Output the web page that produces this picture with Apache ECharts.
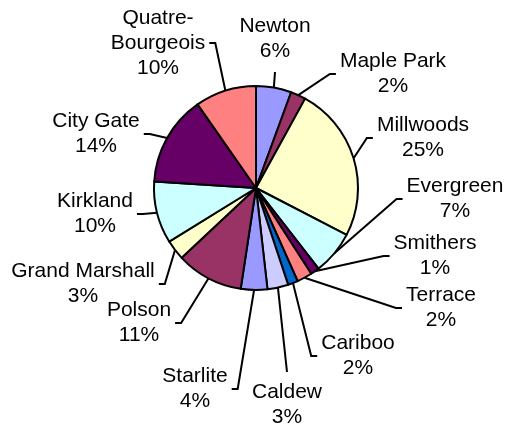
<!DOCTYPE html>
<html>
<head>
<meta charset="utf-8">
<script src="https://cdn.jsdelivr.net/npm/echarts@6/dist/echarts.min.js"></script>
<style>
html,body{margin:0;padding:0;background:#fff;}
#chart{width:506px;height:430px;}
</style>
</head>
<body>
<div id="chart"></div>
<script>
// ---- data ----
const categories = ['Newton','Maple Park','Millwoods','Evergreen','Smithers','Terrace','Cariboo','Caldew','Starlite','Polson','Grand Marshall','Kirkland','City Gate','Quatre-Bourgeois'];
const shares = [5.6, 2.4, 24.6, 6.9, 1.4, 2.4, 1.6, 3.3, 4.2, 10.6, 3.2, 9.8, 14.3, 9.7];
const sliceColors = ['#9999FF','#993366','#FFFFCC','#CCFFFF','#660066','#FF8080','#0066CC','#CCCCFF','#9999FF','#993366','#FFFFCC','#CCFFFF','#660066','#FF8080'];

// ---- layout (label anchor positions and leader side) ----
const labelPlace = [
  [275, 39, 'bottom'], [393, 74, 'left'], [423, 138, 'left'], [455, 199, 'left'],
  [435, 256, 'left'], [441, 308, 'left'], [358, 356, 'left'], [287, 405, 'top'],
  [195, 389, 'right'], [139, 323, 'right'], [83, 284, 'right'], [95, 214, 'right'],
  [96, 134, 'right'], [158, 43, 'right']
];
const CX = 256, CY = 188, R = 102;

const total = shares.reduce((a, b) => a + b, 0);
function edgePoint(i) {
  let cum = 0;
  for (let j = 0; j < i; j++) cum += shares[j];
  const mid = (cum + shares[i] / 2) / total * Math.PI * 2;
  return [CX + R * Math.sin(mid), CY - R * Math.cos(mid)];
}

const chart = echarts.init(document.getElementById('chart'), null, {renderer: 'canvas'});
chart.setOption({
  backgroundColor: '#fff',
  animation: false,
  series: [{
    type: 'pie',
    center: [CX, CY],
    radius: R,
    startAngle: 90,
    clockwise: true,
    avoidLabelOverlap: false,
    data: categories.map((c, i) => ({name: c, value: shares[i], itemStyle: {color: sliceColors[i]}})),
    itemStyle: {borderColor: '#000', borderWidth: 2},
    emphasis: {disabled: true},
    label: {
      show: true,
      position: 'outside',
      color: '#000',
      fontFamily: 'Liberation Sans, Arial, sans-serif',
      fontSize: 21,
      lineHeight: 25,
      align: 'center',
      formatter: p => p.name.replace(/-/g, '-\n') + '\n' + Math.round(p.percent) + '%'
    },
    labelLine: {show: true, lineStyle: {color: '#000', width: 2}},
    labelLayout: function (params) {
      const i = params.dataIndex;
      const [lx, ly, side] = labelPlace[i];
      const w = params.labelRect.width, h = params.labelRect.height;
      const e = edgePoint(i);
      let pts;
      if (side === 'left') {
        const a = [lx - w / 2 - 4, ly];
        pts = [e, [a[0] - 6, ly], a];
      } else if (side === 'right') {
        const a = [lx + w / 2 + 4, ly];
        pts = [e, [a[0] + 6, ly], a];
      } else if (side === 'bottom') {
        const a = [lx, ly + h / 2 + 8];
        pts = [e, [(e[0] + a[0]) / 2, (e[1] + a[1]) / 2], a];
      } else {
        const a = [lx, ly - h / 2 - 8];
        pts = [e, [(e[0] + a[0]) / 2, (e[1] + a[1]) / 2], a];
      }
      return {x: lx, y: ly, align: 'center', verticalAlign: 'middle', labelLinePoints: pts};
    }
  }]
});
</script>
</body>
</html>
